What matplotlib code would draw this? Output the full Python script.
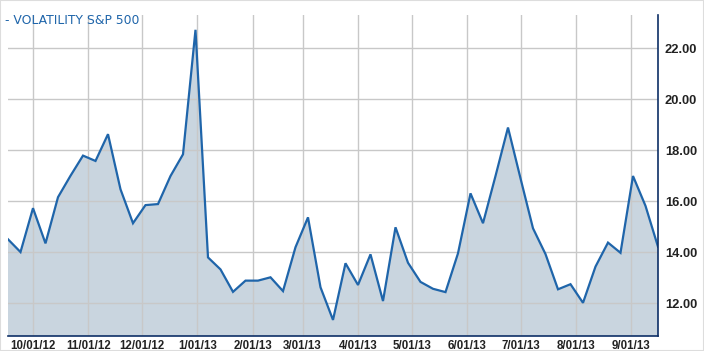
import numpy as np
import pandas as pd
import matplotlib
matplotlib.use("Agg")
import matplotlib.pyplot as plt
import matplotlib.dates as mdates
from matplotlib.patches import Rectangle

# weekly closes, VIX
dates = pd.date_range("2012-09-17", periods=53, freq="7D")
vix = [14.51, 14.01, 15.73, 14.35, 16.16, 17.00, 17.79, 17.58, 18.63, 16.47,
       15.14, 15.85, 15.89, 16.99, 17.84, 22.72, 13.80, 13.33, 12.45, 12.89,
       12.89, 13.02, 12.48, 14.20, 15.37, 12.63, 11.35, 13.57, 12.72, 13.92,
       12.09, 14.98, 13.59, 12.84, 12.57, 12.44, 13.96, 16.31, 15.14, 16.99,
       18.89, 16.90, 14.94, 13.93, 12.55, 12.75, 12.02, 13.44, 14.38, 13.98,
       16.99, 15.82, 14.22]
yticks = [12, 14, 16, 18, 20, 22]
series_name = "VOLATILITY S&P 500"

line_col = "#1f65aa"
fill_col = "#c9d5df"
axis_col = "#0d2f66"

fig = plt.figure(figsize=(7.04, 3.51), dpi=100)
ax = fig.add_axes([8 / 704, 15 / 351, 650 / 704, 321 / 351])

ax.fill_between(dates, vix, 0, color=fill_col, lw=0, zorder=1)
ax.plot(dates, vix, color=line_col, lw=1.6, zorder=3, solid_joinstyle="miter")

ax.set_xlim(dates[0], dates[-1])
ax.set_ylim(10.72, 23.3)

ax.xaxis.set_major_locator(mdates.MonthLocator())
ax.xaxis.set_major_formatter(
    plt.FuncFormatter(lambda v, p: "%d/01/%s" % (mdates.num2date(v).month,
                                                  mdates.num2date(v).strftime("%y"))))
ax.set_yticks(yticks)
ax.set_yticklabels(["%.2f" % v for v in yticks])
ax.yaxis.tick_right()

ax.grid(True, color="#c8c8c8", lw=1, zorder=2)
ax.set_axisbelow(False)
for ln in ax.get_xgridlines() + ax.get_ygridlines():
    ln.set_zorder(2)

ax.tick_params(axis="both", length=0, colors="#222222")
ax.tick_params(axis="x", pad=3)
ax.tick_params(axis="y", pad=5)
for t in ax.get_xticklabels():
    t.set_fontfamily("Liberation Sans")
    t.set_fontweight("bold")
    t.set_fontsize(8.3)
for t in ax.get_yticklabels():
    t.set_fontfamily("Liberation Sans")
    t.set_fontweight("bold")
    t.set_fontsize(9.3)

for s in ["top", "left"]:
    ax.spines[s].set_visible(False)
ax.spines["right"].set_color(axis_col)
ax.spines["bottom"].set_color(axis_col)
ax.spines["right"].set_linewidth(1.2)
ax.spines["bottom"].set_linewidth(1.2)
ax.spines["right"].set_zorder(5)
ax.spines["bottom"].set_zorder(5)

fig.text(5 / 704, 1 - 20 / 351, "- " + series_name, color=line_col,
         fontsize=8.9, family="DejaVu Sans", va="center", ha="left")

# light frame around the image
fig.patches.append(Rectangle((0, 0), 1, 1, transform=fig.transFigure,
                             fill=False, ec="#dddddd", lw=1.5))

fig.savefig("out.png", dpi=100)
